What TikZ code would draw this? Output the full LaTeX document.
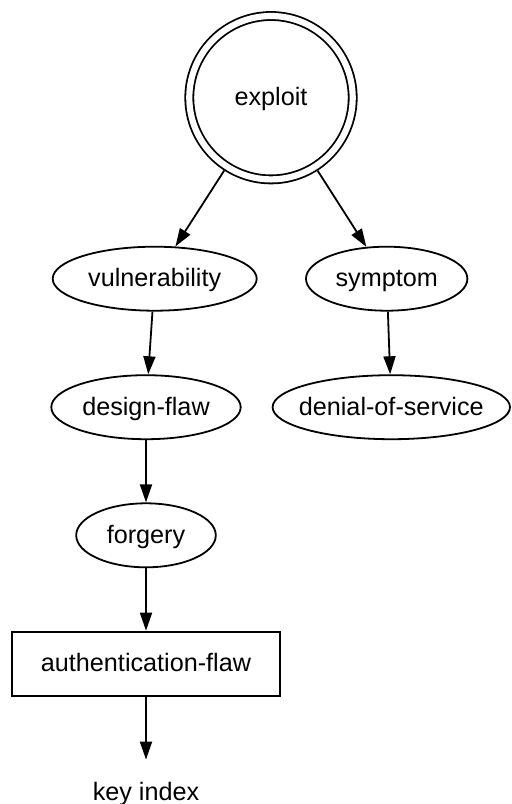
\documentclass[tikz,border=0pt]{standalone}
\usepackage{fontspec}
\setmainfont{Liberation Sans}
\usepackage{tikz}
\usetikzlibrary{arrows}
\usetikzlibrary{arrows.meta, shapes.geometric}

\begin{document}
\begin{tikzpicture}[x = 0.5pt, y = -0.5pt,
		every node/.style = {font = \fontsize{12.6}{15}\selectfont, text height = 9pt, text depth = 1pt, inner sep = 0pt},
		oval/.style = {draw, ellipse, line width = 0.9pt, inner xsep = -10pt, minimum height = 32pt},
		conn/.style = {-{Triangle[length = 9pt, width = 6pt]}, line width = 0.9pt}]
	    \useasboundingbox (0,0) rectangle (511,804);
	    \node[draw, circle, double, double distance = 3.1pt, line width = 0.9pt, minimum size = 81.7pt, outer sep = 2.45pt] (exploit) at (271,97.7) {exploit};
	    \node[oval, minimum width = 102pt] (vuln) at (154.7,278.7) {vulnerability};
	    \node[oval, minimum width = 80.7pt] (symp) at (386.7,278.7) {symptom};
	    \node[oval, minimum width = 94.7pt] (design) at (146,407.2) {design-flaw};
	    \node[oval, minimum width = 118.7pt] (dos) at (391.3,407.2) {denial-of-service};
	    \node[oval, minimum width = 69.8pt] (forg) at (146,535.3) {forgery};
	    \node[draw, line width = 0.9pt, minimum width = 133.9pt, minimum height = 32.2pt] (auth) at (146,663.8) {authentication-flaw};
	    \node[minimum height = 32pt] (key) at (146,792) {key index};
	    \draw[conn] (exploit) -- (vuln);
	    \draw[conn] (exploit) -- (symp);
	    \draw[conn] (vuln) -- (design);
	    \draw[conn] (symp) -- (dos);
	    \draw[conn] (design) -- (forg);
	    \draw[conn] (forg) -- (auth);
	    \draw[conn] (auth) -- (key);
	\end{tikzpicture}
\end{document}
